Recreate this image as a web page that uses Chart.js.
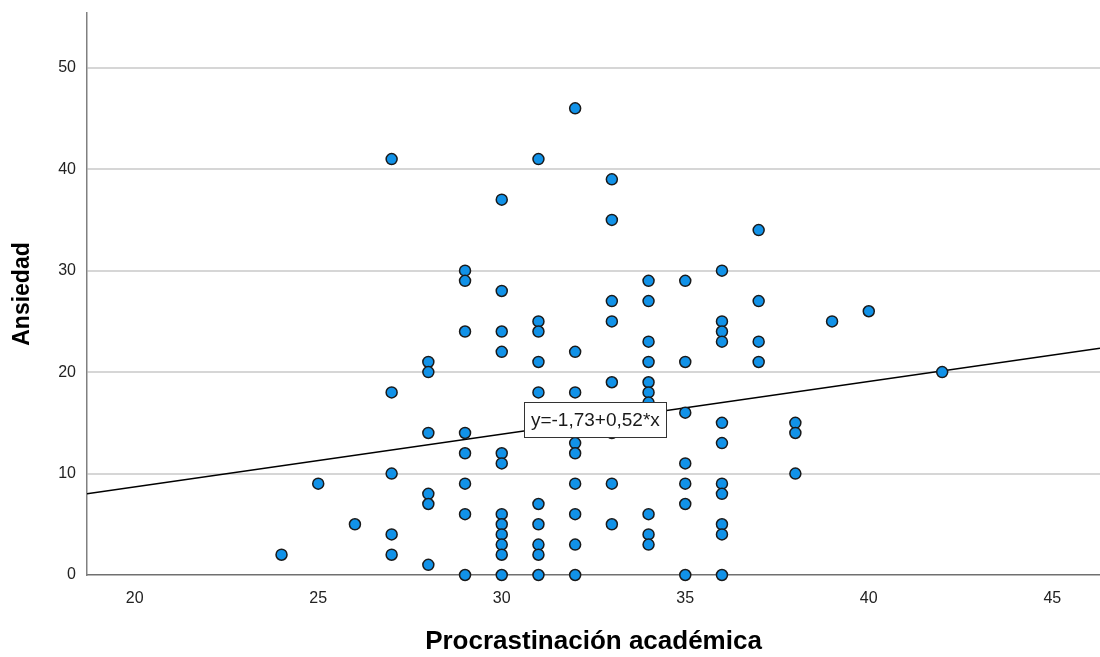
<!DOCTYPE html>
<html>
<head>
<meta charset="utf-8">
<script src="https://cdn.jsdelivr.net/npm/chart.js@4"></script>
<style>
  html, body { margin: 0; padding: 0; background: #fff; }
  canvas { display: block; }
</style>
</head>
<body>
<canvas id="chart" width="1100" height="657"></canvas>
<script>
// Dispersión: Procrastinación académica (x) vs Ansiedad (y), con recta de ajuste

// puntos, leídos columna por columna (x entero)
const procrastinacion = [
  24,
  25,
  26,
  27, 27, 27, 27, 27,
  28, 28, 28, 28, 28, 28,
  29, 29, 29, 29, 29, 29, 29, 29,
  30, 30, 30, 30, 30, 30, 30, 30, 30, 30, 30, 30,
  31, 31, 31, 31, 31, 31, 31, 31, 31, 31,
  32, 32, 32, 32, 32, 32, 32, 32, 32,
  33, 33, 33, 33, 33, 33, 33, 33,
  34, 34, 34, 34, 34, 34, 34, 34, 34, 34,
  35, 35, 35, 35, 35, 35, 35,
  36, 36, 36, 36, 36, 36, 36, 36, 36, 36, 36,
  37, 37, 37, 37,
  38, 38, 38,
  39,
  40,
  42,
];
const ansiedad = [
  2,
  9,
  5,
  41, 18, 10, 4, 2,
  21, 20, 14, 8, 7, 1,
  30, 29, 24, 14, 12, 9, 6, 0,
  37, 28, 24, 22, 12, 11, 6, 5, 4, 3, 2, 0,
  41, 25, 24, 21, 18, 7, 5, 3, 2, 0,
  46, 22, 18, 13, 12, 9, 6, 3, 0,
  39, 35, 27, 25, 19, 14, 9, 5,
  29, 27, 23, 21, 19, 18, 17, 6, 4, 3,
  29, 21, 16, 11, 9, 7, 0,
  30, 25, 24, 23, 15, 13, 9, 8, 5, 4, 0,
  34, 27, 23, 21,
  15, 14, 10,
  25,
  26,
  20,
];

// recta de ajuste (extremos en los bordes del gráfico)
const fitX = [18.7, 46.3];
const fitY = [8.0, 22.35];
const eqText = 'y=-1,73+0,52*x';
const eqAt = [32.55, 15.3];

// ejes
const xRange = [18.7, 46.3];
const yRange = [0, 55.4];
const xTicks = [20, 25, 30, 35, 40, 45];
const yTicks = [0, 10, 20, 30, 40, 50];

const FONT = '"Liberation Sans", Arial, Helvetica, sans-serif';

const eqLabel = {
  id: 'eqLabel',
  afterDatasetsDraw(chart) {
    const { ctx, scales: { x, y } } = chart;
    const cx = x.getPixelForValue(eqAt[0]);
    const cy = y.getPixelForValue(eqAt[1]);
    ctx.save();
    ctx.font = '19px ' + FONT;
    const w = Math.round(ctx.measureText(eqText).width + 13);
    const h = 35;
    const left = Math.round(cx - w / 2), top = Math.round(cy - h / 2);
    ctx.fillStyle = '#fff';
    ctx.fillRect(left, top, w, h);
    ctx.strokeStyle = '#333';
    ctx.lineWidth = 1;
    ctx.strokeRect(left + 0.5, top + 0.5, w, h);
    ctx.fillStyle = '#1a1a1a';
    ctx.textAlign = 'center';
    ctx.textBaseline = 'middle';
    ctx.fillText(eqText, cx, cy + 1);
    ctx.restore();
  },
};

// sin relleno automático alrededor de las etiquetas de los ejes
function noPad(s) {
  s.paddingLeft = s.paddingRight = s.paddingTop = s.paddingBottom = 0;
}

new Chart(document.getElementById('chart').getContext('2d'), {
  type: 'scatter',
  data: {
    datasets: [
      {
        label: 'Ansiedad',
        data: procrastinacion.map((v, i) => ({ x: v, y: ansiedad[i] })),
        backgroundColor: '#1192e8',
        borderColor: '#1a1a1a',
        borderWidth: 1.5,
        pointRadius: 5.5,
        clip: false,
      },
      {
        type: 'line',
        label: 'Ajuste',
        data: fitX.map((v, i) => ({ x: v, y: fitY[i] })),
        borderColor: '#000',
        borderWidth: 1.5,
        pointRadius: 0,
        fill: false,
      },
    ],
  },
  options: {
    responsive: false,
    animation: false,
    layout: { autoPadding: false, padding: { top: 13, right: 0, left: 0, bottom: 0 } },
    plugins: {
      legend: { display: false },
      tooltip: { enabled: false },
    },
    scales: {
      x: {
        type: 'linear',
        min: xRange[0],
        max: xRange[1],
        afterBuildTicks: s => { s.ticks = xTicks.map(v => ({ value: v })); },
        afterFit: s => { s.height = 82; noPad(s); },
        grid: { display: false, drawTicks: false },
        border: { display: true, color: '#707070', width: 1.5 },
        ticks: {
          padding: 14,
          color: '#222',
          font: { family: FONT, size: 16 },
          maxRotation: 0,
        },
        title: {
          display: true,
          text: 'Procrastinación académica',
          color: '#000',
          font: { family: FONT, size: 26, weight: 'bold', lineHeight: 1 },
          padding: { top: 0, bottom: 2 },
        },
      },
      y: {
        type: 'linear',
        min: yRange[0],
        max: yRange[1],
        afterBuildTicks: s => { s.ticks = yTicks.map(v => ({ value: v })); },
        afterFit: s => { s.width = 87; noPad(s); },
        grid: {
          drawTicks: false,
          color: c => (c.tick && c.tick.value === 0 ? 'rgba(0,0,0,0)' : '#d6d6d6'),
          lineWidth: 2,
        },
        border: { display: true, color: '#808080', width: 1.5 },
        ticks: {
          padding: 11,
          color: '#222',
          font: { family: FONT, size: 16 },
        },
        title: {
          display: true,
          text: 'Ansiedad',
          color: '#000',
          font: { family: FONT, size: 23, weight: 'bold', lineHeight: 1 },
          padding: { top: 11, bottom: 0 },
        },
      },
    },
  },
  plugins: [eqLabel],
});
</script>
</body>
</html>
